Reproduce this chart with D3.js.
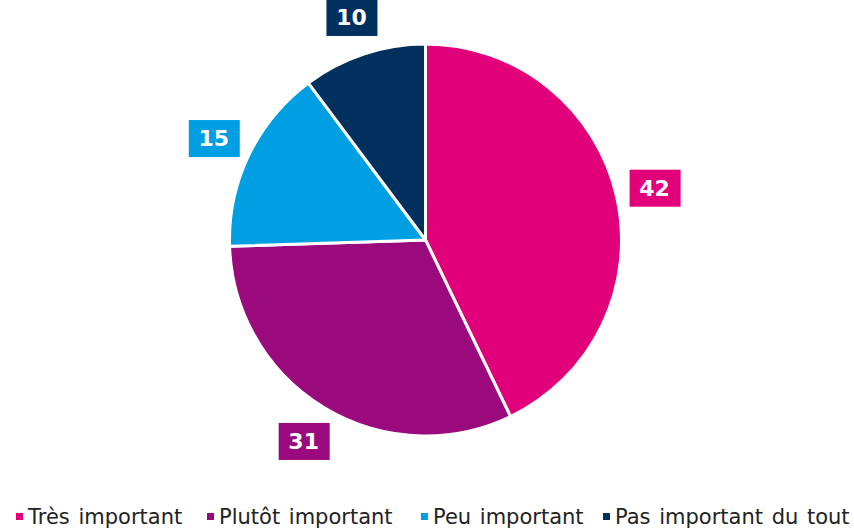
<!DOCTYPE html>
<html>
<head>
<meta charset="utf-8">
<script src="https://cdn.jsdelivr.net/npm/d3@7"></script>
<style>
  body { margin: 0; background: #fff; }
  svg { display: block; font-family: Verdana, "DejaVu Sans", sans-serif; }
</style>
</head>
<body>
<div id="chart"></div>
<script>
// data
var categories = ['Très important', 'Plutôt important', 'Peu important', 'Pas important du tout'];
var values = [42, 31, 15, 10];
var colors = ['#e2007a', '#9b0a7d', '#009fe3', '#00305e'];

var width = 854, height = 530;
var cx = 425.5, cy = 240, radius = 196;

var svg = d3.select('#chart').append('svg')
  .attr('width', width)
  .attr('height', height);

var g = svg.append('g').attr('transform', 'translate(' + cx + ',' + cy + ')');

var pie = d3.pie().sort(null).value(function(d){ return d; });
var arc = d3.arc().innerRadius(0).outerRadius(radius);
var labelArc = d3.arc().innerRadius(235).outerRadius(235);

var arcs = pie(values);

g.selectAll('path.slice')
  .data(arcs)
  .enter().append('path')
  .attr('class', 'slice')
  .attr('d', arc)
  .attr('fill', function(d, i){ return colors[i]; })
  .attr('stroke', '#fff')
  .attr('stroke-width', 3)
  .attr('stroke-linejoin', 'round');

// value labels in coloured boxes
var labels = g.selectAll('g.lbl')
  .data(arcs)
  .enter().append('g')
  .attr('class', 'lbl')
  .attr('transform', function(d){ var c = labelArc.centroid(d); return 'translate(' + c[0] + ',' + c[1] + ')'; });

labels.append('rect')
  .attr('x', -25).attr('y', -18)
  .attr('width', 51).attr('height', 37)
  .attr('fill', function(d, i){ return colors[i]; });

labels.append('text')
  .attr('text-anchor', 'middle')
  .attr('dy', '0.36em')
  .attr('fill', '#fff')
  .attr('font-weight', 'bold')
  .attr('font-size', 22)
  .text(function(d){ return d.data; });

// legend
var legendX = [16, 207, 421, 603];
var legend = svg.selectAll('g.legend')
  .data(categories)
  .enter().append('g')
  .attr('class', 'legend')
  .attr('transform', function(d, i){ return 'translate(' + legendX[i] + ',516)'; });

legend.append('rect')
  .attr('x', 0).attr('y', -3)
  .attr('width', 7).attr('height', 7)
  .attr('fill', function(d, i){ return colors[i]; });

legend.append('text')
  .attr('x', 12)
  .attr('dy', '0.36em')
  .attr('font-size', 21)
  .attr('word-spacing', 2)
  .attr('fill', '#222')
  .text(function(d){ return d; });
</script>
</body>
</html>
